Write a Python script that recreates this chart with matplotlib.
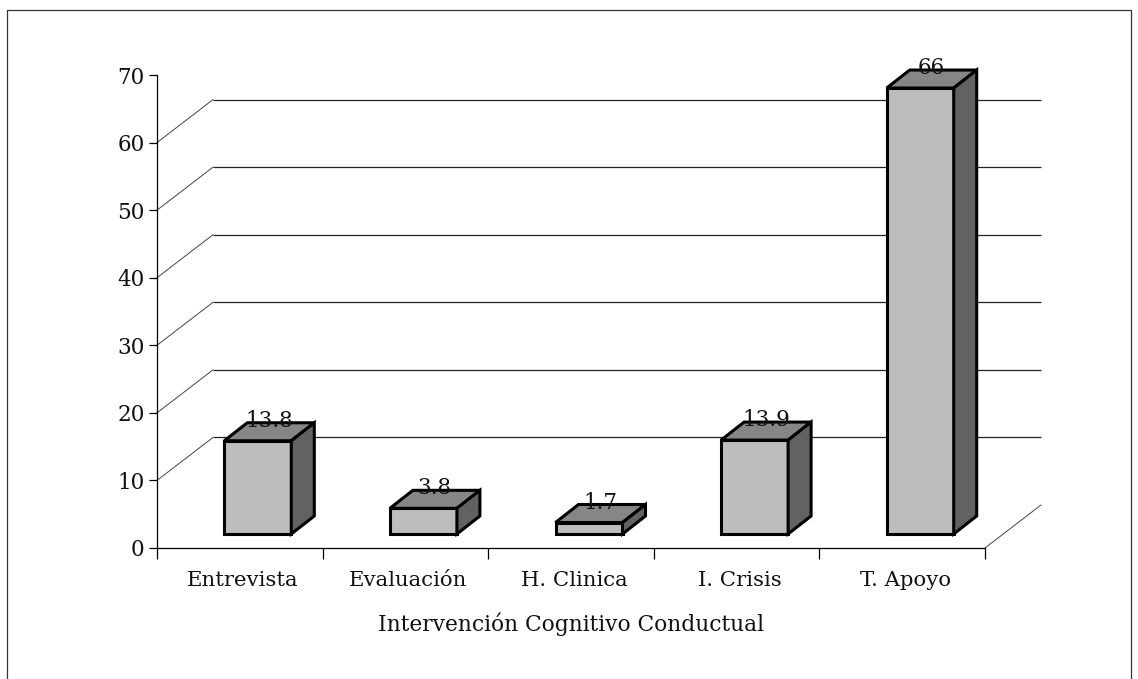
# Pseudo-3D bar chart of cognitive behavioural interventions

import matplotlib
matplotlib.use('Agg')
import matplotlib.pyplot as plt
from matplotlib.patches import Polygon, Rectangle

categories = ['Entrevista', 'Evaluación', 'H. Clinica', 'I. Crisis', 'T. Apoyo']
values = [13.8, 3.8, 1.7, 13.9, 66]
value_labels = ['13.8', '3.8', '1.7', '13.9', '66']
yticks = [0, 10, 20, 30, 40, 50, 60, 70]
grid_values = [10, 20, 30, 40, 50, 60]

W, H = 1138, 679
fig = plt.figure(figsize=(W / 100, H / 100), dpi=100)
ax = fig.add_axes([157 / W, 1 - 548 / H, 828 / W, 473 / H])
plt.rcParams['font.family'] = 'DejaVu Serif'

ax.set_xlim(-0.5, 4.5)
ax.set_ylim(0, 70)
ax.patch.set_visible(False)
for side in ['top', 'right']:
    ax.spines[side].set_visible(False)
for side in ['left', 'bottom']:
    ax.spines[side].set_linewidth(0.9)

# back wall offset and bar depth, in data units
px_x = 5 / 828
px_y = 70 / 473
wall_dx, wall_dy = 56 * px_x, 43 * px_y
depth_dx, depth_dy = 23 * px_x, 18 * px_y
bar_shift, bar_w = 18 * px_x, 67 * px_x
base = 14 * px_y

for v in grid_values:
    ax.plot([-0.5 + wall_dx, 4.5 + wall_dx], [v + wall_dy, v + wall_dy], color='#222222', lw=0.9,
            clip_on=False, zorder=1, solid_capstyle='butt')
    ax.plot([-0.5, -0.5 + wall_dx], [v, v + wall_dy], color='#444444', lw=0.7, clip_on=False, zorder=1)
ax.plot([4.5, 4.5 + wall_dx], [0, wall_dy], color='#444444', lw=0.7, clip_on=False, zorder=1)

for i, (val, lab) in enumerate(zip(values, value_labels)):
    x0 = i - bar_w / 2 + bar_shift
    x1 = x0 + bar_w
    top = base + val
    ax.add_patch(Rectangle((x0, base), bar_w, val, fc='#bdbdbd', ec='black', lw=2.2, zorder=3,
                           joinstyle='miter'))
    ax.add_patch(Polygon([(x0, top), (x1, top), (x1 + depth_dx, top + depth_dy), (x0 + depth_dx, top + depth_dy)],
                         fc='#868686', ec='black', lw=2.2, zorder=3, clip_on=False))
    ax.add_patch(Polygon([(x1, base), (x1 + depth_dx, base + depth_dy), (x1 + depth_dx, top + depth_dy), (x1, top)],
                         fc='#626262', ec='black', lw=2.2, zorder=3, clip_on=False))
    ax.text(i + bar_shift + depth_dx / 2, top + depth_dy - 4 * px_y, lab, ha='center', va='baseline',
            fontsize=15.5, family='DejaVu Serif', color='#111111', zorder=4, clip_on=False)

ax.set_yticks(yticks)
ax.set_yticklabels(yticks, fontsize=15.5, family='DejaVu Serif', color='#111111')
ax.tick_params(axis='y', length=6, width=0.9, pad=3)

# category ticks sit between the bars, labels are centred on each category
ax.set_xticks([-0.5, 0.5, 1.5, 2.5, 3.5, 4.5])
ax.set_xticklabels([])
ax.tick_params(axis='x', length=8, width=0.9)
for i, name in enumerate(categories):
    ax.annotate(name, (i, 0), xytext=(3, -33), textcoords='offset pixels', ha='center', va='center',
                fontsize=15.3, family='DejaVu Serif', color='#111111', annotation_clip=False)
ax.annotate('Intervención Cognitivo Conductual', (2, 0), xytext=(0, -76), textcoords='offset pixels',
            ha='center', va='center', fontsize=15.7, family='DejaVu Serif', color='#111111',
            annotation_clip=False)

# outer chart frame, cut by the bottom of the image
fig.add_artist(plt.Line2D([7 / W, 7 / W, 1131 / W, 1131 / W], [0, 1 - 10 / H, 1 - 10 / H, 0],
                          color='#333333', lw=0.9))

fig.savefig('out.png', dpi=100)
